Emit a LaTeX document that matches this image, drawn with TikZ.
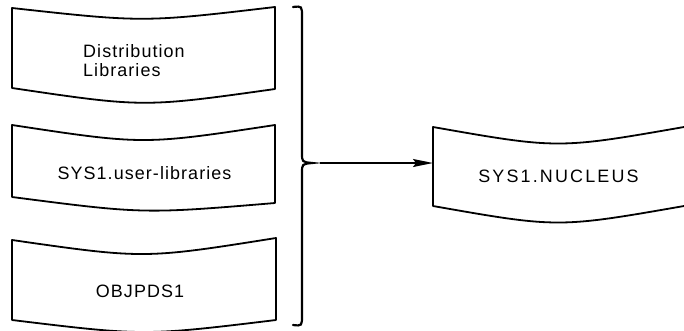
\documentclass[tikz,border=0pt]{standalone}
\usepackage{fontspec}
\setmainfont{Liberation Sans}
\usetikzlibrary{arrows.meta}
\begin{document}
\begin{tikzpicture}[x=1bp,y=-1bp,
  boxline/.style={line width=1.8bp,line join=round},
  lbl/.style={inner sep=0pt,font=\fontsize{18}{20}\selectfont\addfontfeature{LetterSpace=6}},
  bracestyle/.style={line width=2.2bp,line cap=round},
  conn/.style={line width=1.5bp,-{Stealth[length=20bp,width=8bp,inset=3bp]}}]
\useasboundingbox (0,0) rectangle (684,330);
% left boxes
\draw[boxline] (12,8) .. controls (143.5,22.5) .. (275,7) -- (275,89)
  .. controls (143.5,107.5) .. (12,88) -- cycle;
\draw[boxline] (12,125) .. controls (143.5,145) .. (275,125) -- (275,203)
  .. controls (143.5,214) .. (12,197) -- cycle;
\draw[boxline] (12,240) .. controls (144,259) .. (276,238) -- (276,320)
  .. controls (144,336) .. (12,320) -- cycle;
% right box (open on the right)
\draw[boxline] (684,127) .. controls (558,149) .. (433,127) -- (433,206)
  .. controls (558,228) .. (684,206);
% texts
\node[lbl,align=left,anchor=north west] (dist) at (83,44) {Distribution\\[-0.5bp]Libraries};
\node[lbl] (user) at (144.5,173.5) {SYS1.user-libraries};
\node[lbl] (obj) at (140,291) {OBJPDS1};
\node[lbl,font=\fontsize{18}{20}\selectfont\addfontfeature{LetterSpace=12}] (nuc) at (558.5,176) {SYS1.NUCLEUS};
% brace
\coordinate (tip) at (312,163);
\draw[bracestyle] (293,7) .. controls (302,6) .. (302,17) -- (302,153)
  .. controls (302,162) .. (tip) .. controls (302,164) .. (302,173)
  -- (302,315) .. controls (302,326) .. (293,325);
% connector
\coordinate (from) at (320,163);
\coordinate (to) at (433,163);
\draw[conn] (from) -- (to);
\end{tikzpicture}
\end{document}
